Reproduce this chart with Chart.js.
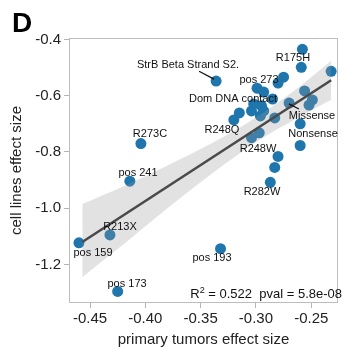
<!DOCTYPE html>
<html>
<head>
<meta charset="utf-8">
<script src="https://cdn.jsdelivr.net/npm/chart.js@4.4.1/dist/chart.umd.min.js"></script>
<style>
  html, body { margin: 0; padding: 0; background: #ffffff; }
  #wrap { width: 344px; height: 351px; position: relative; }
</style>
</head>
<body>
<div id="wrap"><canvas id="c"></canvas></div>
<script>
// ---- data ----
const tumorEffect = [
  -0.460, -0.432, -0.425, -0.414, -0.404, -0.336, -0.332, -0.287,
  -0.258, -0.259, -0.232, -0.275, -0.280, -0.299, -0.293, -0.256,
  -0.249, -0.252, -0.270, -0.302, -0.315, -0.320, -0.304, -0.293,
  -0.296, -0.283, -0.260, -0.260, -0.280, -0.283, -0.304, -0.297,
  -0.285, -0.295
];
const cellLineEffect = [
  -1.123, -1.095, -1.296, -0.904, -0.770, -0.548, -1.144, -0.908,
  -0.435, -0.499, -0.513, -0.534, -0.555, -0.573, -0.587, -0.583,
  -0.615, -0.633, -0.626, -0.629, -0.661, -0.686, -0.654, -0.654,
  -0.672, -0.679, -0.700, -0.777, -0.816, -0.855, -0.749, -0.732,
  -0.612, -0.636
];

const fitX = [-0.457, -0.232];
const fitY = [-1.120, -0.545];

const bandX     = [-0.457, -0.420, -0.380, -0.340, -0.300, -0.260, -0.232];
const bandUpper = [-0.985, -0.923, -0.848, -0.769, -0.677, -0.566, -0.476];
const bandLower = [-1.245, -1.129, -1.000, -0.877, -0.765, -0.674, -0.614];

const labelTexts = ["StrB Beta Strand S2.", "R175H", "pos 273", "Dom DNA contact", "Missense",
  "R248Q", "Nonsense", "R248W", "R282W", "pos 193", "R273C", "pos 241", "R213X", "pos 159", "pos 173"];
const labelX = [-0.3614, -0.2665, -0.2972, -0.3207, -0.2493, -0.3307, -0.2484, -0.2981, -0.2945,
  -0.3397, -0.3958, -0.4066, -0.4229, -0.4473, -0.4165];
const labelY = [-0.4917, -0.4670, -0.5446, -0.6116, -0.6716, -0.7210, -0.7350, -0.7880, -0.9430,
  -1.1760, -0.7350, -0.8730, -1.0670, -1.1580, -1.2680];

const leaderFromX = [-0.3514, -0.2701];
const leaderFromY = [-0.513, -0.629];
const leaderToX   = [-0.3379, -0.2611];
const leaderToY   = [-0.541, -0.647];

const xTickValues = [-0.45, -0.40, -0.35, -0.30, -0.25];
const yTickValues = [-1.2, -1.0, -0.8, -0.6, -0.4];

const statsText = " = 0.522  pval = 5.8e-08";
const panelLetter = "D";

// ---- build ----
const FONT = "'Liberation Sans', Arial, Helvetica, sans-serif";
const points = tumorEffect.map((x, i) => ({ x: x, y: cellLineEffect[i] }));
const fitData = fitX.map((x, i) => ({ x: x, y: fitY[i] }));
const upperData = bandX.map((x, i) => ({ x: x, y: bandUpper[i] }));
const lowerData = bandX.map((x, i) => ({ x: x, y: bandLower[i] }));

const decorPlugin = {
  id: 'decor',
  afterDraw(chart) {
    const ctx = chart.ctx;
    const xs = chart.scales.x, ys = chart.scales.y;
    const a = chart.chartArea;
    ctx.save();
    // panel box
    ctx.strokeStyle = '#bdbdbd';
    ctx.lineWidth = 1;
    ctx.strokeRect(a.left + 0.5, a.top + 0.5, a.right - a.left - 1, a.bottom - a.top - 1);
    // leader lines
    ctx.strokeStyle = '#111';
    ctx.lineWidth = 1.2;
    for (let i = 0; i < leaderFromX.length; i++) {
      ctx.beginPath();
      ctx.moveTo(xs.getPixelForValue(leaderFromX[i]), ys.getPixelForValue(leaderFromY[i]));
      ctx.lineTo(xs.getPixelForValue(leaderToX[i]), ys.getPixelForValue(leaderToY[i]));
      ctx.stroke();
    }
    // point labels
    ctx.fillStyle = '#111';
    ctx.font = '11px ' + FONT;
    ctx.textAlign = 'center';
    ctx.textBaseline = 'middle';
    for (let i = 0; i < labelTexts.length; i++) {
      ctx.fillText(labelTexts[i], xs.getPixelForValue(labelX[i]), ys.getPixelForValue(labelY[i]));
    }
    // stats text (right aligned near bottom-right)
    ctx.textBaseline = 'alphabetic';
    ctx.textAlign = 'left';
    ctx.font = '13px ' + FONT;
    const wR = ctx.measureText('R').width;
    const wRest = ctx.measureText(statsText).width;
    ctx.font = '9px ' + FONT;
    const w2 = ctx.measureText('2').width;
    const total = wR + w2 + wRest;
    const endX = a.right + 4;
    const baseY = a.bottom - 5;
    let x0 = endX - total;
    ctx.font = '13px ' + FONT;
    ctx.fillText('R', x0, baseY);
    ctx.font = '9px ' + FONT;
    ctx.fillText('2', x0 + wR, baseY - 5);
    ctx.font = '13px ' + FONT;
    ctx.fillText(statsText, x0 + wR + w2, baseY);
    // panel letter
    ctx.font = 'bold 28px ' + FONT;
    ctx.fillStyle = '#000';
    ctx.fillText(panelLetter, 12, 32);
    ctx.restore();
  }
};

new Chart(document.getElementById('c'), {
  type: 'scatter',
  data: {
    datasets: [
      {
        type: 'line', data: fitData, order: 0,
        borderColor: '#4a4a4a', borderWidth: 2.6, pointRadius: 0, fill: false
      },
      {
        type: 'line', data: upperData, order: 1,
        borderWidth: 0, borderColor: 'rgba(0,0,0,0)', pointRadius: 0,
        tension: 0.4, cubicInterpolationMode: 'monotone',
        fill: { target: 2 }, backgroundColor: 'rgba(150,150,150,0.28)'
      },
      {
        type: 'line', data: lowerData, order: 1,
        borderWidth: 0, borderColor: 'rgba(0,0,0,0)', pointRadius: 0,
        tension: 0.4, cubicInterpolationMode: 'monotone', fill: false
      },
      {
        type: 'scatter', data: points, order: 3,
        pointRadius: 5.5, pointBackgroundColor: '#1f76ad', pointBorderWidth: 0,
        pointBorderColor: 'rgba(0,0,0,0)'
      }
    ]
  },
  options: {
    responsive: true,
    maintainAspectRatio: false,
    devicePixelRatio: 1,
    animation: false,
    events: [],
    layout: { padding: { top: 38, right: 6, left: 0, bottom: 0 } },
    plugins: { legend: { display: false }, tooltip: { enabled: false } },
    scales: {
      x: {
        type: 'linear', min: -0.469, max: -0.2258,
        afterFit(s) { s.height = 48; },
        afterBuildTicks(s) { s.ticks = xTickValues.map(v => ({ value: v })); },
        grid: { drawOnChartArea: false, drawTicks: true, tickLength: 5, color: '#b5b5b5' },
        border: { display: false },
        ticks: {
          padding: 2, color: '#222', font: { family: FONT, size: 15 },
          maxRotation: 0, autoSkip: false,
          callback: v => v.toFixed(2)
        },
        title: {
          display: true, text: 'primary tumors effect size', color: '#222',
          font: { family: FONT, size: 15 }, padding: { top: 0, bottom: 2 }
        }
      },
      y: {
        type: 'linear', min: -1.337, max: -0.3947,
        afterFit(s) { s.width = 69; },
        afterBuildTicks(s) { s.ticks = yTickValues.map(v => ({ value: v })); },
        grid: { drawOnChartArea: false, drawTicks: true, tickLength: 5, color: '#b5b5b5' },
        border: { display: false },
        ticks: {
          padding: 3, color: '#222', font: { family: FONT, size: 15 },
          autoSkip: false,
          callback: v => v.toFixed(1)
        },
        title: {
          display: true, text: 'cell lines effect size', color: '#222',
          font: { family: FONT, size: 15 }, padding: { top: 8, bottom: 0 }
        }
      }
    }
  },
  plugins: [decorPlugin]
});
</script>
</body>
</html>
